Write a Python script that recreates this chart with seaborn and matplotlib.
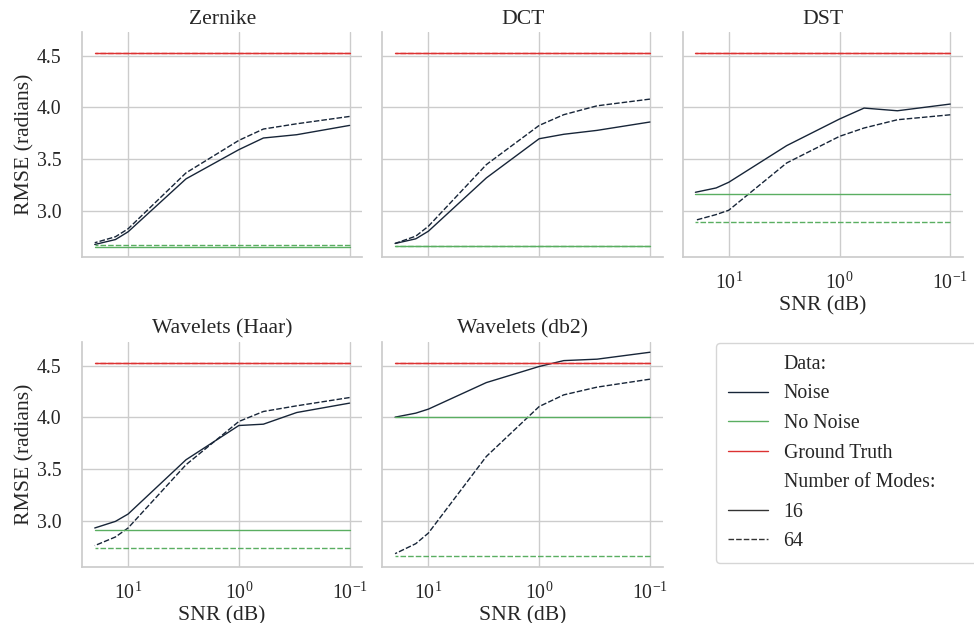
# RMSE vs SNR for each basis, noisy / noiseless / ground truth

import numpy as np
import pandas as pd
import matplotlib
matplotlib.use("Agg")
import matplotlib.pyplot as plt
import seaborn as sns

# Data

snr = [20, 13, 10, 3, 1, 0.6, 0.3, 0.1]
methods = ["Zernike", "DCT", "DST", "Wavelets (Haar)", "Wavelets (db2)"]

zernike_16 = [2.672, 2.720, 2.795, 3.308, 3.591, 3.704, 3.736, 3.826]
zernike_64 = [2.689, 2.747, 2.824, 3.366, 3.681, 3.791, 3.842, 3.913]
dct_16 = [2.682, 2.727, 2.801, 3.317, 3.697, 3.740, 3.778, 3.859]
dct_64 = [2.682, 2.753, 2.849, 3.446, 3.826, 3.930, 4.016, 4.081]
dst_16 = [3.178, 3.220, 3.275, 3.630, 3.888, 3.994, 3.968, 4.033]
dst_64 = [2.907, 2.962, 3.004, 3.462, 3.720, 3.801, 3.881, 3.929]
haar_16 = [2.929, 2.993, 3.064, 3.590, 3.922, 3.935, 4.048, 4.139]
haar_64 = [2.758, 2.842, 2.929, 3.542, 3.961, 4.058, 4.113, 4.193]
db2_16 = [4.003, 4.042, 4.081, 4.338, 4.494, 4.551, 4.565, 4.632]
db2_64 = [2.680, 2.777, 2.880, 3.622, 4.106, 4.219, 4.294, 4.371]

no_noise_16 = [2.650, 2.655, 3.165, 2.912, 4.000]
no_noise_64 = [2.665, 2.660, 2.888, 2.735, 2.654]
ground_truth = 4.53

noise_16 = [zernike_16, dct_16, dst_16, haar_16, db2_16]
noise_64 = [zernike_64, dct_64, dst_64, haar_64, db2_64]

# Long-form table

rows = []
for i, m in enumerate(methods):
    for j, s in enumerate(snr):
        rows.append([m, s, noise_16[i][j], "Noise", "16"])
        rows.append([m, s, noise_64[i][j], "Noise", "64"])
        rows.append([m, s, no_noise_16[i], "No Noise", "16"])
        rows.append([m, s, no_noise_64[i], "No Noise", "64"])
        rows.append([m, s, ground_truth, "Ground Truth", "16"])
        rows.append([m, s, ground_truth, "Ground Truth", "64"])
df = pd.DataFrame(rows, columns=["Method", "SNR", "RMSE", "Data:", "Number of Modes:"])

# Style

sns.set_theme(context="notebook", style="whitegrid", font_scale=1.3)
plt.rcParams["font.family"] = ["Liberation Serif", "DejaVu Serif"]
plt.rcParams["mathtext.fontset"] = "stix"
plt.rcParams["ytick.major.pad"] = 9
plt.rcParams["xtick.major.pad"] = 5.5
plt.rcParams["axes.labelpad"] = 1.5

palette = {"Noise": "#172538", "No Noise": "#5aae61", "Ground Truth": "#dc3232"}

# Graph

g = sns.relplot(data=df, x="SNR", y="RMSE", col="Method", col_wrap=3,
                hue="Data:", style="Number of Modes:", kind="line",
                palette=palette, linewidth=1.0, height=3, aspect=1.2,
                facet_kws={"sharex": True, "sharey": True})
g.set(xscale="log")
g.axes[0].invert_xaxis()
g.set_titles("{col_name}")
g.set_axis_labels("SNR (dB)", "RMSE (radians)")

g.figure.set_size_inches(9.74, 6.23)
g.figure.subplots_adjust(left=0.0842, right=0.9887, top=0.9486, bottom=0.0899,
                         wspace=0.0714, hspace=0.378)

sns.move_legend(g, "upper left", bbox_to_anchor=(0.7351, 0.0, 0.30, 0.4494),
                mode="expand", borderaxespad=0, frameon=True,
                borderpad=0.6, labelspacing=0.53)

g.figure.savefig("out.png", dpi=100)
